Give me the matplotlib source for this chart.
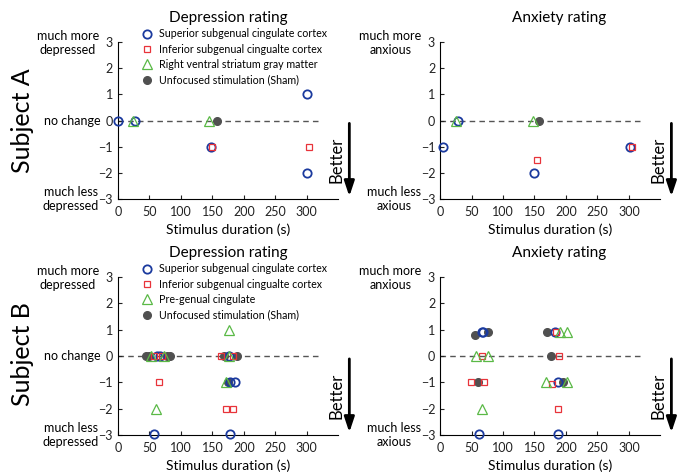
import matplotlib
matplotlib.use("Agg")
import matplotlib.pyplot as plt
from matplotlib.lines import Line2D

plt.rcParams['font.family'] = ['Lato', 'DejaVu Sans']

# ---- data (stimulus duration in s, rating change) ----
# Subject A, depression
a_dep_sup_x = [0, 27, 147, 300, 300]
a_dep_sup_y = [0, 0, -1, 1, -2]
a_dep_inf_x = [149, 303]
a_dep_inf_y = [-1, -1]
a_dep_tri_x = [24, 145]
a_dep_tri_y = [0, 0]
a_dep_sham_x = [157]
a_dep_sham_y = [0]

# Subject A, anxiety
a_anx_sup_x = [4, 29, 150, 302]
a_anx_sup_y = [-1, 0, -2, -1]
a_anx_inf_x = [154, 305]
a_anx_inf_y = [-1.5, -1]
a_anx_tri_x = [26, 147]
a_anx_tri_y = [0, 0]
a_anx_sham_x = [158]
a_anx_sham_y = [0]

# Subject B, depression
b_dep_sup_x = [62, 67, 177, 178, 186, 58, 178]
b_dep_sup_y = [0, 0, 0, -1, -1, -2.95, -2.95]
b_dep_inf_x = [58, 70, 163, 183, 65, 171, 183]
b_dep_inf_y = [0, 0, 0, 0, -1, -2, -2]
b_dep_tri_x = [53, 73, 176, 176, 172, 61]
b_dep_tri_y = [0, 0, 0, 1, -1, -2]
b_dep_sham_x = [45, 50, 78, 83, 169, 189, 175]
b_dep_sham_y = [0, 0, 0, 0, 0, 0, -1]

# Subject B, anxiety
b_anx_sup_x = [66, 69, 182, 187, 62, 188]
b_anx_sup_y = [0.9, 0.9, 0.9, -1, -2.95, -2.95]
b_anx_inf_x = [185, 67, 189, 49, 70, 178, 188]
b_anx_inf_y = [0.9, 0, 0, -1, -1, -1.05, -2]
b_anx_tri_x = [191, 202, 57, 77, 169, 202, 66]
b_anx_tri_y = [0.9, 0.9, 0, 0, -1, -1, -2]
b_anx_sham_x = [55, 77, 170, 177, 60, 196]
b_anx_sham_y = [0.82, 0.9, 0.9, 0, -1, -1]

sup_label = 'Superior subgenual cingulate cortex'
inf_label = 'Inferior subgenual cingualte cortex'
sham_label = 'Unfocused stimulation (Sham)'
tri_label_a = 'Right ventral striatum gray matter'
tri_label_b = 'Pre-genual cingulate'

blue = '#1b3a9e'
red = '#e8333a'
green = '#5ab946'
grey = '#505050'

fig = plt.figure(figsize=(6.78, 4.72), dpi=100)
ax1 = fig.add_axes([0.174, 0.578, 0.325, 0.333])
ax2 = fig.add_axes([0.649, 0.578, 0.325, 0.333])
ax3 = fig.add_axes([0.174, 0.078, 0.325, 0.335])
ax4 = fig.add_axes([0.649, 0.078, 0.325, 0.335])


def draw(ax, sup, inf, tri, sham):
    ax.plot([0, 318], [0, 0], color='#555555', lw=1, dashes=(4, 3), zorder=1)
    ax.plot(sup[0], sup[1], 'o', ms=6, mfc='none', mec=blue, mew=1.3,
            clip_on=False, zorder=3)
    ax.plot(inf[0], inf[1], 's', ms=5, mfc='none', mec=red, mew=0.9,
            clip_on=False, zorder=3)
    ax.plot(tri[0], tri[1], '^', ms=7, mfc='none', mec=green, mew=0.9,
            clip_on=False, zorder=3)
    ax.plot(sham[0], sham[1], 'o', ms=5.5, mfc=grey, mec=grey,
            clip_on=False, zorder=2)
    ax.set_xlim(0, 350)
    ax.set_ylim(-3, 3)
    ax.set_xticks([0, 50, 100, 150, 200, 250, 300])
    ax.set_yticks([-3, -2, -1, 0, 1, 2, 3])
    ax.spines['top'].set_visible(False)
    ax.spines['right'].set_visible(False)
    ax.tick_params(direction='in', length=3, labelsize=9, colors='#222222')
    ax.tick_params(axis='x', pad=5)
    ax.set_xlabel('Stimulus duration (s)', fontsize=10, labelpad=4)
    # better arrow
    ax.annotate('', xy=(1.05, -3), xytext=(1.05, 0),
                xycoords=('axes fraction', 'data'), annotation_clip=False,
                arrowprops=dict(arrowstyle='-|>,head_length=0.9,head_width=0.3',
                                color='black', lw=2))
    ax.text(0.99, -1.5, 'Better', rotation=90, ha='center', va='center',
            fontsize=12, transform=ax.get_yaxis_transform())


def side_labels(ax, top, bottom, middle=None):
    tr = ax.get_yaxis_transform()
    ax.text(-0.085, 2.95, top, ha='right', va='center', fontsize=9,
            transform=tr, multialignment='center', linespacing=1.2)
    ax.text(-0.085, -3.0, bottom, ha='right', va='center', fontsize=9,
            transform=tr, multialignment='center', linespacing=1.2)
    if middle:
        ax.text(-0.08, 0, middle, ha='right', va='center', fontsize=9,
                transform=tr)


draw(ax1, (a_dep_sup_x, a_dep_sup_y), (a_dep_inf_x, a_dep_inf_y),
     (a_dep_tri_x, a_dep_tri_y), (a_dep_sham_x, a_dep_sham_y))
draw(ax2, (a_anx_sup_x, a_anx_sup_y), (a_anx_inf_x, a_anx_inf_y),
     (a_anx_tri_x, a_anx_tri_y), (a_anx_sham_x, a_anx_sham_y))
draw(ax3, (b_dep_sup_x, b_dep_sup_y), (b_dep_inf_x, b_dep_inf_y),
     (b_dep_tri_x, b_dep_tri_y), (b_dep_sham_x, b_dep_sham_y))
draw(ax4, (b_anx_sup_x, b_anx_sup_y), (b_anx_inf_x, b_anx_inf_y),
     (b_anx_tri_x, b_anx_tri_y), (b_anx_sham_x, b_anx_sham_y))

side_labels(ax1, 'much more\ndepressed', 'much less\ndepressed', 'no change')
side_labels(ax3, 'much more\ndepressed', 'much less\ndepressed', 'no change')
side_labels(ax2, 'much more\nanxious', 'much less\naxious')
side_labels(ax4, 'much more\nanxious', 'much less\naxious')

for ax, t, xc in [(ax1, 'Depression rating', 0.5), (ax2, 'Anxiety rating', 0.54),
                  (ax3, 'Depression rating', 0.5), (ax4, 'Anxiety rating', 0.54)]:
    ax.text(xc, 1.15, t, fontsize=11, ha='center', va='center',
            transform=ax.transAxes)

for ax, tri_label in [(ax1, tri_label_a), (ax3, tri_label_b)]:
    handles = [
        Line2D([], [], ls='none', marker='o', ms=6, mfc='none', mec=blue, mew=1.3),
        Line2D([], [], ls='none', marker='s', ms=5, mfc='none', mec=red, mew=0.9),
        Line2D([], [], ls='none', marker='^', ms=7, mfc='none', mec=green, mew=0.9),
        Line2D([], [], ls='none', marker='o', ms=5.5, mfc=grey, mec=grey),
    ]
    ax.legend(handles, [sup_label, inf_label, tri_label, sham_label],
              loc='upper left', bbox_to_anchor=(0.08, 1.12), frameon=False,
              fontsize=7.7, handlelength=1.1, handletextpad=0.6,
              labelspacing=0.4, borderpad=0)

fig.text(0.033, 0.745, 'Subject A', rotation=90, ha='center', va='center',
         fontsize=18)
fig.text(0.033, 0.25, 'Subject B', rotation=90, ha='center', va='center',
         fontsize=18)

fig.savefig('out.png', dpi=100)
